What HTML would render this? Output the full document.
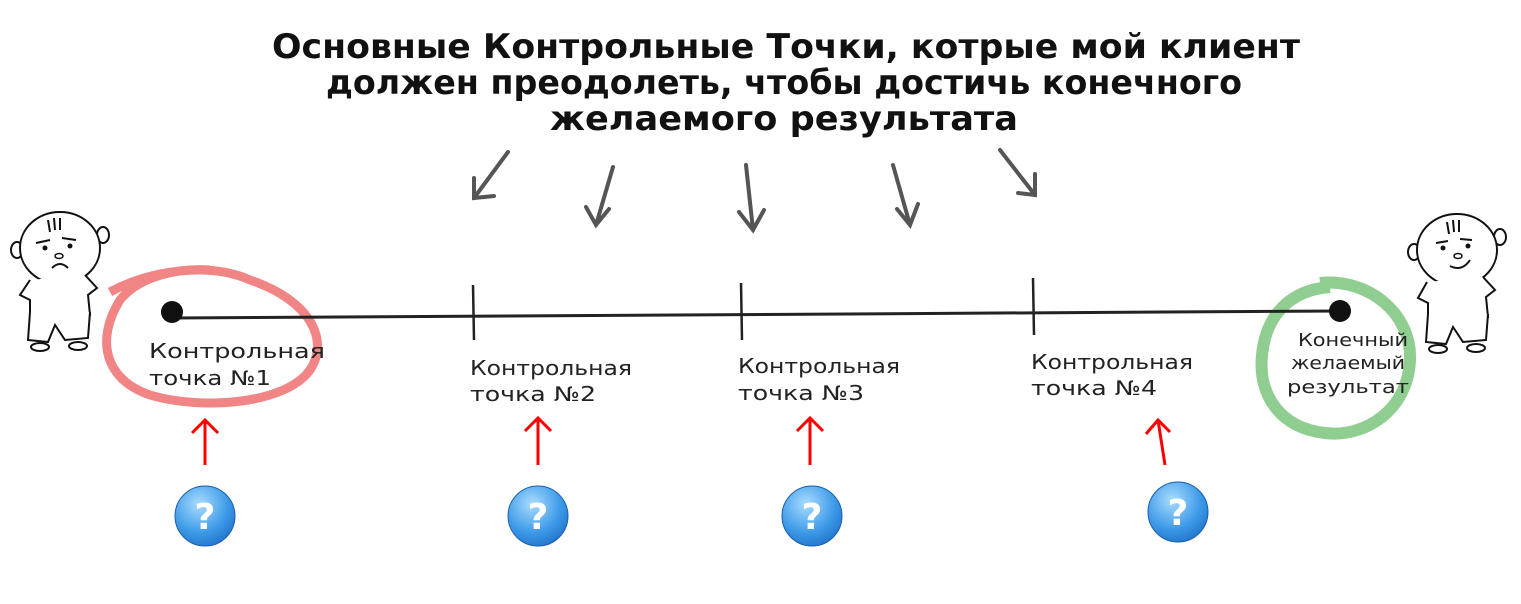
<!DOCTYPE html>
<html><head><meta charset="utf-8"><style>
html,body{margin:0;padding:0;background:#fff;width:1521px;height:604px;overflow:hidden}
svg{display:block}
.t{font-family:"DejaVu Sans","Liberation Sans",sans-serif;font-weight:bold;font-size:34px;fill:#111}
.l{font-family:"DejaVu Sans","Liberation Sans",sans-serif;font-size:20px;fill:#222}
.f{font-family:"DejaVu Sans","Liberation Sans",sans-serif;font-size:18px;fill:#222}
.q{font-family:"DejaVu Sans","Liberation Sans",sans-serif;font-weight:bold;font-size:36px;fill:#fff}
</style></head><body>
<svg width="1521" height="604" viewBox="0 0 1521 604" xmlns="http://www.w3.org/2000/svg">
<defs>
<radialGradient id="b" cx="0.4" cy="0.3" r="0.8">
<stop offset="0" stop-color="#a9dcff"/><stop offset="0.6" stop-color="#3d9ae8"/><stop offset="1" stop-color="#1c6cc4"/>
</radialGradient>
</defs>
<text class="t" x="272" y="58" textLength="1028" lengthAdjust="spacingAndGlyphs">Основные Контрольные Точки, котрые мой клиент</text>
<text class="t" x="326" y="94" textLength="916" lengthAdjust="spacingAndGlyphs">должен преодолеть, чтобы достичь конечного</text>
<text class="t" x="550" y="130" textLength="468" lengthAdjust="spacingAndGlyphs">желаемого результата</text>

<g stroke="#555" stroke-width="4" fill="none" stroke-linecap="round">
<path d="M508 152 L474 198 M474 178 L474 198 L494 196"/>
<path d="M613 167 L596 225 M586 207 L596 225 L609 209"/>
<path d="M746 165 L753 230 M739 212 L753 230 L764 210"/>
<path d="M893 165 L910 225 M897 209 L910 225 L918 204"/>
<path d="M1000 150 L1035 195 M1018 193 L1035 195 L1035 174"/>
</g>

<g fill="none" stroke="#f07878" stroke-width="9" opacity="0.9">
<path d="M110 292 C150 270 210 262 250 280 C310 300 330 340 310 370 C285 405 200 410 150 395 C105 380 95 340 120 300 C140 275 180 268 210 270"/>
</g>
<g fill="none" stroke="#7cc47c" stroke-width="12" opacity="0.85">
<path d="M1320 283 C1370 278 1412 315 1410 360 C1408 410 1365 438 1325 433 C1280 428 1258 395 1262 355 C1266 315 1290 290 1330 287"/>
</g>

<path d="M173 318 L1340 311" stroke="#222" stroke-width="3"/>
<path d="M473 285 L474 340 M741 283 L742 340 M1033 278 L1034 335" stroke="#222" stroke-width="2.5"/>
<circle cx="172" cy="312" r="11" fill="#111"/>
<circle cx="1340" cy="311" r="11" fill="#111"/>

<text class="l" x="149" y="358" textLength="176" lengthAdjust="spacingAndGlyphs">Контрольная</text>
<text class="l" x="149" y="385" textLength="122" lengthAdjust="spacingAndGlyphs">точка №1</text>
<text class="l" x="470" y="375" textLength="162" lengthAdjust="spacingAndGlyphs">Контрольная</text>
<text class="l" x="470" y="401" textLength="126" lengthAdjust="spacingAndGlyphs">точка №2</text>
<text class="l" x="738" y="373" textLength="162" lengthAdjust="spacingAndGlyphs">Контрольная</text>
<text class="l" x="738" y="400" textLength="126" lengthAdjust="spacingAndGlyphs">точка №3</text>
<text class="l" x="1031" y="369" textLength="162" lengthAdjust="spacingAndGlyphs">Контрольная</text>
<text class="l" x="1031" y="395" textLength="126" lengthAdjust="spacingAndGlyphs">точка №4</text>
<text class="f" x="1298" y="346" textLength="110" lengthAdjust="spacingAndGlyphs">Конечный</text>
<text class="f" x="1291" y="369" textLength="114" lengthAdjust="spacingAndGlyphs">желаемый</text>
<text class="f" x="1287" y="393" textLength="122" lengthAdjust="spacingAndGlyphs">результат</text>

<g stroke="#f00" stroke-width="3" fill="none">
<path d="M205 465 L205 420 M192 433 L205 420 L218 433"/>
<path d="M538 465 L538 418 M525 431 L538 418 L551 431"/>
<path d="M810 465 L810 418 M797 431 L810 418 L823 431"/>
<path d="M1165 465 L1158 420 M1146 434 L1158 420 L1170 432"/>
</g>

<g>
<circle cx="205" cy="516" r="30" fill="url(#b)" stroke="#1a5fb0" stroke-width="1"/>
<text class="q" x="205" y="529" text-anchor="middle">?</text>
<circle cx="538" cy="516" r="30" fill="url(#b)" stroke="#1a5fb0" stroke-width="1"/>
<text class="q" x="538" y="529" text-anchor="middle">?</text>
<circle cx="812" cy="516" r="30" fill="url(#b)" stroke="#1a5fb0" stroke-width="1"/>
<text class="q" x="812" y="529" text-anchor="middle">?</text>
<circle cx="1178" cy="512" r="30" fill="url(#b)" stroke="#1a5fb0" stroke-width="1"/>
<text class="q" x="1178" y="525" text-anchor="middle">?</text>
</g>

<!-- left kid -->
<g stroke="#111" stroke-width="2" fill="#fff">
<ellipse cx="17" cy="250" rx="6" ry="8"/>
<ellipse cx="103" cy="235" rx="6" ry="8"/>
<ellipse cx="60" cy="248" rx="40" ry="36"/>
<path d="M30 280 L20 295 L30 300 L30 320 L90 315 L88 295 L97 288 L85 275"/>
<path d="M30 312 L28 340 L48 342 L55 325 L65 340 L88 338 L90 312"/>
<ellipse cx="40" cy="347" rx="9" ry="4"/><ellipse cx="78" cy="346" rx="9" ry="4"/>
<path d="M36 243 L50 240 M62 238 L76 240" fill="none"/>
<path d="M52 268 Q60 260 68 268" fill="none"/>
<path d="M48 220 L50 232 M54 218 L55 230 M60 218 L60 230" fill="none"/>
</g>
<circle cx="45" cy="248" r="2.5" fill="#111"/><circle cx="70" cy="246" r="2.5" fill="#111"/>
<ellipse cx="59" cy="256" rx="4" ry="2.5" fill="#fff" stroke="#111" stroke-width="1.5"/>
<!-- right kid -->
<g stroke="#111" stroke-width="2" fill="#fff">
<ellipse cx="1414" cy="252" rx="6" ry="8"/>
<ellipse cx="1500" cy="237" rx="6" ry="8"/>
<ellipse cx="1457" cy="250" rx="40" ry="36"/>
<path d="M1427 282 L1418 298 L1428 303 L1428 322 L1488 317 L1486 297 L1495 290 L1483 277"/>
<path d="M1428 314 L1426 342 L1446 344 L1453 327 L1463 342 L1486 340 L1488 314"/>
<ellipse cx="1438" cy="349" rx="9" ry="4"/><ellipse cx="1476" cy="348" rx="9" ry="4"/>
<path d="M1450 266 Q1462 272 1470 260" fill="none"/>
<path d="M1436 243 L1448 241 M1460 239 L1472 240" fill="none"/>
<path d="M1447 222 L1449 234 M1453 220 L1454 232 M1459 220 L1459 232" fill="none"/>
</g>
<circle cx="1443" cy="248" r="2.5" fill="#111"/><circle cx="1468" cy="246" r="2.5" fill="#111"/>
<ellipse cx="1458" cy="256" rx="4" ry="2.5" fill="#fff" stroke="#111" stroke-width="1.5"/>
</svg>
</body></html>
